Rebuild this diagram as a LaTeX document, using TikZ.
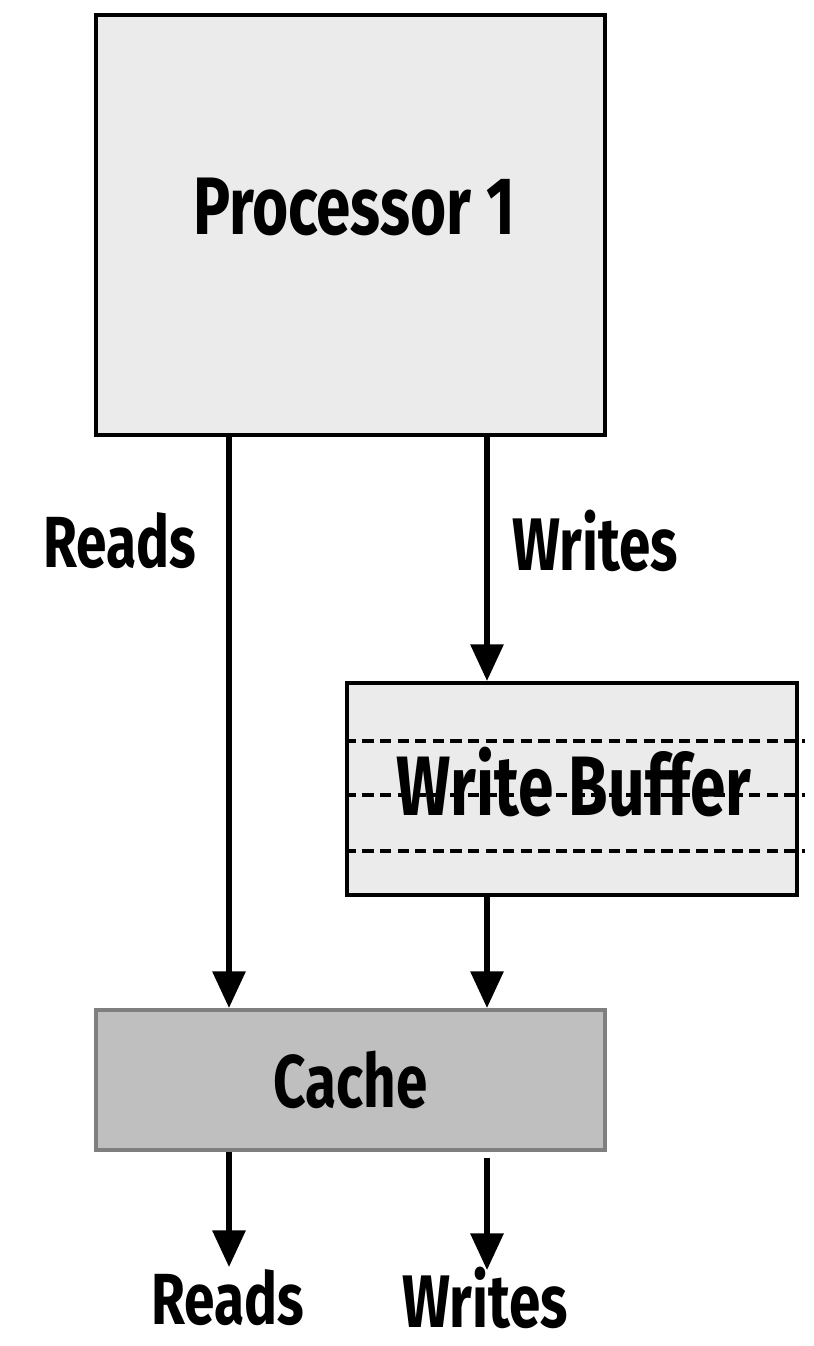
\documentclass[tikz,border=0pt]{standalone}
\usepackage{fontspec}
\setmainfont{Fira Sans}[FakeStretch=0.76]
\usetikzlibrary{arrows.meta}
\definecolor{boxFill}{HTML}{EBEBEB}
\definecolor{cacheFill}{HTML}{BFBFBF}
\definecolor{cacheLine}{HTML}{7F7F7F}
\tikzset{
    unitBox/.style={
        ,   rectangle
        ,   draw=black
        ,   line width=2.9pt
        ,   fill=boxFill
        ,   inner sep=0pt
    },
    cacheBox/.style={
        ,   unitBox
        ,   draw=cacheLine
        ,   fill=cacheFill
        ,   font={\fontsize{53}{60}\selectfont\bfseries}
    },
    boxText/.style={ % size in pt
        ,   inner sep=0pt
        ,   font={\fontsize{#1}{60}\selectfont\bfseries}
    },
    flowArrow/.style={
        ,   line width=3.6pt
        ,   -{Triangle[length=26pt,width=23pt]}
    },
    slotLine/.style={
        ,   line width=2.8pt
        ,   dash pattern=on 8pt off 4.5pt
    }
}
\begin{document}
\begin{tikzpicture}[x=0.025cm, y=-0.025cm]
    \useasboundingbox (0,0) rectangle (814,1346);
    \coordinate (readX) at (229,0);
    \coordinate (writeX) at (487,0);

    \node[unitBox, minimum width=12.725cm, minimum height=10.5cm] (proc) at (350.5,225) {};
    \node[boxText=58] (procText) at (354,207) {Processor 1};
    \node[unitBox, minimum width=11.25cm, minimum height=5.3cm] (wbuf) at (572,789) {};
    \node[cacheBox, minimum width=12.725cm, minimum height=3.5cm] (cache) at (350.5,1080) {Cache};

    % dashed slots of the buffer
    \foreach \y in {741,795,851}{
        \draw[slotLine] (wbuf.west |- 0,\y) -- (805,\y);
    }
    \node[boxText=60] (wbufText) at (574,782) {Write Buffer};

    \draw[flowArrow] (proc.south -| readX) -- (cache.north -| readX);
    \draw[flowArrow] (proc.south -| writeX) -- (wbuf.north -| writeX);
    \draw[flowArrow] (wbuf.south -| writeX) -- (cache.north -| writeX);

    \node[boxText=51.5] (readsIn) at (120,541) {Reads};
    \node[boxText=53] (writesIn) at (595,541) {Writes};

    \coordinate (readOut) at (229,1267);
    \coordinate (writeOut) at (487,1270);
    \draw[flowArrow] (cache.south -| readX) -- (readOut);
    \draw[flowArrow] ([yshift=-4pt]cache.south -| writeX) -- (writeOut);

    \node[boxText=51.5] (readsOut) at (228,1298) {Reads};
    \node[boxText=53] (writesOut) at (485,1298) {Writes};
\end{tikzpicture}
\end{document}
